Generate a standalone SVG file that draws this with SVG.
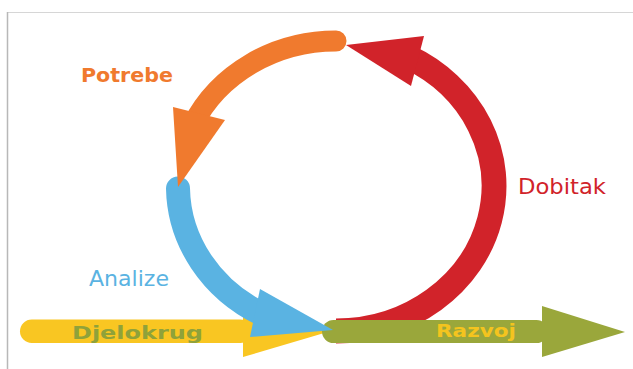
<svg xmlns="http://www.w3.org/2000/svg" width="633" height="369" viewBox="0 0 633 369">
<style>
.lbl{font-family:"DejaVu Sans","Liberation Sans",sans-serif;}
.band{fill:none;stroke-linecap:butt;}
.round{stroke-linecap:round;}
</style>
<rect x="0" y="0" width="633" height="369" fill="#ffffff"/>
<g id="frame">
<line x1="7" y1="12.5" x2="633" y2="12.5" stroke="#d6d6d6" stroke-width="1"/>
<line x1="7.5" y1="12" x2="7.5" y2="369" stroke="#b8b8b8" stroke-width="1.5"/>
</g>
<g id="connectors">
<g id="djelokrug">
<rect x="20" y="319.5" width="232" height="23.5" rx="11.75" fill="#f9c622"/>
<polygon points="243,305 331,331 243,357" fill="#f9c622"/>
<text class="lbl" x="72" y="339" font-size="17" font-weight="bold" fill="#8fa23a" textLength="131" lengthAdjust="spacingAndGlyphs">Djelokrug</text>
</g>
<g id="dobitak">
<path class="band" d="M336,331 A158,145 0 0 0 407.7,56.8" stroke="#d1232a" stroke-width="25"/>
<polygon points="424,36 346,45 411,86" fill="#d1232a"/>
</g>
<g id="razvoj">
<rect x="322" y="320" width="226" height="23" rx="11.5" fill="#9aa73b"/>
<polygon points="542,306 625,332 542,357" fill="#9aa73b"/>
<text class="lbl" x="436" y="337" font-size="17" font-weight="bold" fill="#f4c41e" textLength="80" lengthAdjust="spacingAndGlyphs">Razvoj</text>
</g>
<g id="analize">
<path class="band round" d="M178,188.5 A158,145 0 0 0 261.8,314" stroke="#5ab3e2" stroke-width="24"/>
<polygon points="260,289 333,330 250,337" fill="#5ab3e2"/>
</g>
<g id="potrebe">
<path class="band round" d="M336,41 A158,145 0 0 0 192.8,124.7" stroke="#f07a2e" stroke-width="21"/>
<polygon points="173,107 225,120 178,187" fill="#f07a2e"/>
</g>
</g>
<g id="labels">
<text class="lbl" x="81" y="82" font-size="19" font-weight="bold" fill="#f07a2e" textLength="92" lengthAdjust="spacingAndGlyphs">Potrebe</text>
<text class="lbl" x="518" y="194" font-size="22" fill="#d1232a" textLength="88" lengthAdjust="spacingAndGlyphs">Dobitak</text>
<text class="lbl" x="89" y="286" font-size="22" fill="#5ab3e2" textLength="80" lengthAdjust="spacingAndGlyphs">Analize</text>
</g>
</svg>
